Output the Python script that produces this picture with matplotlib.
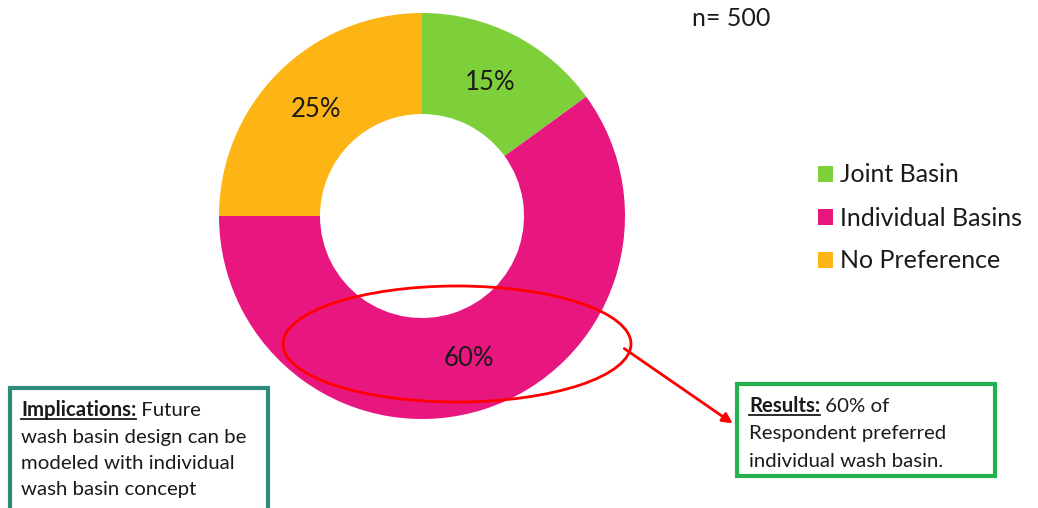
import matplotlib.pyplot as plt
from matplotlib.patches import Ellipse, Rectangle

labels = ['Joint Basin', 'Individual Basins', 'No Preference']
shares = [15, 60, 25]
colors = ['#7ED03B', '#E8177F', '#FDB515']
n_total = 500

plt.rcParams['font.family'] = ['Lato', 'DejaVu Sans']

fig = plt.figure(figsize=(10.38, 5.08), dpi=100)
ax = fig.add_axes([0, 0, 1, 1])
ax.axis('off')

H = 508
wedges, _, pcts = ax.pie(shares, colors=colors, startangle=90, counterclock=False,
                         center=(422, H - 216), radius=203,
                         wedgeprops=dict(width=101, linewidth=0),
                         autopct='%.0f%%', pctdistance=0.74,
                         textprops=dict(fontsize=18.5, color='#1a1a1a'))
ax.set_xlim(0, 1038)
ax.set_ylim(0, 508)
ax.set_aspect('auto')

ax.text(692, H - 18, f'n= {n_total}', fontsize=18, color='#1a1a1a', va='center')

leg = ax.legend(wedges, labels, loc='upper left', bbox_to_anchor=(805 / 1038, 1 - 151 / H),
                frameon=False, fontsize=18, handlelength=0.6, handleheight=0.6,
                handletextpad=0.3, labelspacing=0.8, borderpad=0)
for t in leg.get_texts():
    t.set_color('#1a1a1a')

# highlight ellipse and arrow
ax.add_patch(Ellipse((457, H - 344), 348, 116, fill=False, edgecolor='#FF0000', linewidth=2))
ax.annotate('', xy=(735, H - 425), xytext=(622, H - 347),
            arrowprops=dict(arrowstyle='-|>', color='#FF0000', lw=2, mutation_scale=15))

# text boxes
ax.add_patch(Rectangle((737, H - 476), 258, 92, fill=False, edgecolor='#22B14C', linewidth=3))
ax.add_patch(Rectangle((10, H - 520), 258, 132, fill=False, edgecolor='#2E8B7A', linewidth=3))

fig.canvas.draw()
renderer = fig.canvas.get_renderer()


def boxed_text(x, y0, head, rest, lines, step, fs):
    h = ax.text(x, y0, head, fontsize=fs, weight='bold', color='#1a1a1a', va='baseline')
    bb = h.get_window_extent(renderer)
    ax.text(bb.x1, y0, ' ' + rest, fontsize=fs, color='#1a1a1a', va='baseline')
    ax.plot([bb.x0, bb.x1], [y0 - 3, y0 - 3], color='#1a1a1a', lw=1.3)
    for i, line in enumerate(lines):
        ax.text(x, y0 - step * (i + 1), line, fontsize=fs, color='#1a1a1a', va='baseline')


boxed_text(749, H - 412, 'Results:', '60% of',
           ['Respondent preferred', 'individual wash basin.'], 27.5, 14.7)
boxed_text(21, H - 416, 'Implications:', 'Future',
           ['wash basin design can be', 'modeled with individual', 'wash basin concept'], 26.5, 14.7)

fig.savefig('out.png', dpi=100)
